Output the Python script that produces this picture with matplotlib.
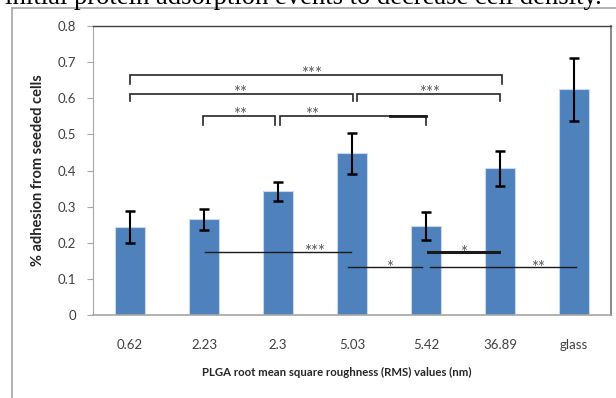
"""
PLGA粗さと細胞接着率の棒グラフ
"""
import matplotlib.pyplot as plt
from matplotlib.lines import Line2D

plt.rcParams["font.family"] = ["Lato", "DejaVu Sans"]

categories = ["0.62", "2.23", "2.3", "5.03", "5.42", "36.89", "glass"]
adhesion = [0.244, 0.265, 0.342, 0.447, 0.247, 0.406, 0.624]
errors = [0.045, 0.030, 0.025, 0.056, 0.039, 0.049, 0.088]
yticks = [0, 0.1, 0.2, 0.3, 0.4, 0.5, 0.6, 0.7, 0.8]

# 上部のブラケット: (左, 右, 高さ, 脚の下端, ラベル, ラベル位置)
brackets = [
    (0.0, 5.02, 0.664, 0.639, "***", 2.45),
    (0.0, 3.01, 0.611, 0.592, "**", 1.49),
    (3.07, 5.0, 0.611, 0.592, "***", 4.05),
    (0.99, 1.96, 0.551, 0.526, "**", 1.49),
    (2.03, 4.0, 0.551, 0.526, "**", 2.46),
]
# 下部の横線: (左, 右, 高さ, ラベル, ラベル位置, 線幅)
hlines = [
    (1.01, 2.99, 0.176, "***", 2.49, 1.0),
    (2.94, 3.95, 0.133, "*", 3.5, 1.0),
    (4.02, 4.99, 0.174, "*", 4.5, 2.2),
    (4.05, 6.03, 0.133, "**", 5.51, 1.0),
]
# ブラケットの太い部分 (左, 右, 高さ)
thick_part = (3.51, 4.0, 0.551)


def draw_chart():
    """
    グラフを描画する関数
    """
    fig = plt.figure(figsize=(6.16, 3.98), dpi=100)
    ax = fig.add_axes([0.151, 0.2078, 0.841, 0.7276])

    x = list(range(len(categories)))
    ax.bar(x, adhesion, width=0.4, color="#4f81bd", edgecolor="#c6d9f1",
           linewidth=0.8, zorder=2)
    ax.errorbar(x, adhesion, yerr=errors, fmt="none", ecolor="black",
                elinewidth=1.5, capsize=3.5, capthick=1.8, zorder=3)

    # 有意差のブラケット
    for x0, x1, y, yb, lab, lx in brackets:
        ax.plot([x0, x0, x1, x1], [yb, y, y, yb], color="#262626", lw=1.2,
                zorder=4, solid_joinstyle="miter")
        ax.text(lx, y - 0.012, lab, ha="center", va="baseline", fontsize=12,
                color="#595959")
    ax.plot(thick_part[:2], [thick_part[2]] * 2, color="#1a1a1a", lw=2.0,
            zorder=4)
    for x0, x1, y, lab, lx, lw in hlines:
        ax.plot([x0, x1], [y, y], color="#1a1a1a", lw=lw, zorder=4)
        ax.text(lx, y - 0.015, lab, ha="center", va="baseline", fontsize=12,
                color="#595959")

    ax.set_xlim(-0.5, 6.5)
    ax.set_ylim(0, 0.8)
    ax.set_xticks(x)
    ax.set_xticklabels(categories, fontsize=9.5, color="#404040")
    ax.set_yticks(yticks)
    ax.set_yticklabels([f"{v:g}" for v in yticks], fontsize=9.5,
                       color="#404040")
    ax.tick_params(axis="x", length=0, pad=17)
    ax.tick_params(axis="y", length=4, width=0.8, color="#a6a6a6", pad=8)

    ax.spines["left"].set_color("#a6a6a6")
    ax.spines["bottom"].set_color("#a6a6a6")
    ax.spines["bottom"].set_linewidth(1.2)
    ax.spines["top"].set_color("#404040")
    ax.spines["top"].set_linewidth(1.0)
    ax.spines["right"].set_color("#8c8c8c")
    ax.spines["right"].set_linewidth(1.5)

    ax.set_ylabel("% adhesion from seeded cells", fontsize=10.5,
                  fontweight="bold", color="#262626")
    ax.yaxis.set_label_coords(-0.092, 0.5)
    fig.text(337 / 616, 1 - 372 / 398,
             "PLGA root mean square roughness (RMS) values (nm)",
             ha="center", va="center", fontsize=8.2, fontweight="bold",
             color="#262626")

    # 枠線と上部の本文
    fig.add_artist(Line2D([12 / 616, 12 / 616], [0, 1 - 7.5 / 398],
                          color="#a6a6a6", lw=1.2))
    fig.add_artist(Line2D([12 / 616, 1], [1 - 7.5 / 398, 1 - 7.5 / 398],
                          color="#a6a6a6", lw=1.2))
    fig.text(5 / 616, 1 - 4 / 398,
             "initial protein adsorption events to decrease cell density.",
             ha="left", va="baseline", fontsize=19.2,
             family="Liberation Serif", color="black")

    fig.savefig("out.png", dpi=100)


def main():
    """
    メイン関数
    """
    draw_chart()


if __name__ == "__main__":
    main()
